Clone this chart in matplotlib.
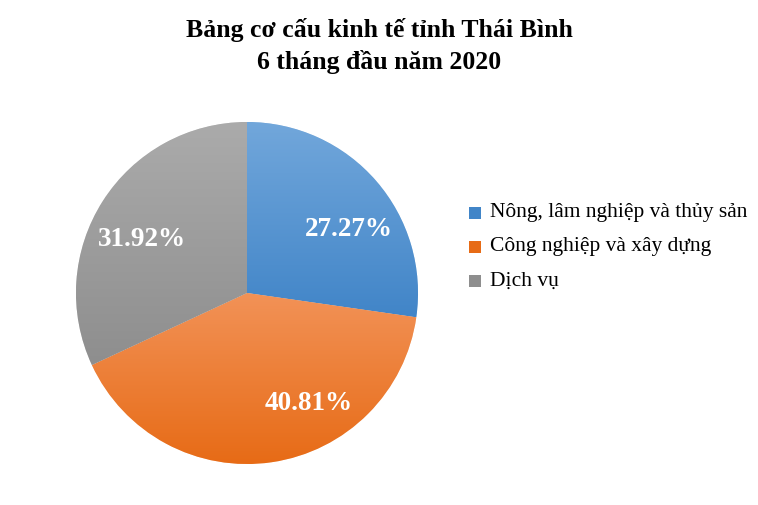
import numpy as np
import matplotlib.pyplot as plt
from matplotlib.colors import LinearSegmentedColormap

plt.rcParams['font.family'] = ['Liberation Serif', 'DejaVu Serif']

labels = ["Nông, lâm nghiệp và thủy sản", "Công nghiệp và xây dựng", "Dịch vụ"]
values = [27.27, 40.81, 31.92]
pct_text = ["27.27%", "40.81%", "31.92%"]
# top / bottom colours of the gradient fills
top_colors = ["#72a7db", "#f29257", "#ababab"]
bottom_colors = ["#4185c8", "#e76b16", "#8e8e8e"]
# where Excel put the data labels (angle in degrees, fraction of radius)
label_ang = [32, -61, 153]
label_rad = [0.70, 0.74, 0.69]

fig = plt.figure(figsize=(7.58, 5.05), dpi=100)
ax = fig.add_axes([76 / 758, 41 / 505, 342 / 758, 342 / 505])

wedges, texts = ax.pie(values, startangle=90, counterclock=False, radius=1,
                       colors=bottom_colors,
                       wedgeprops=dict(edgecolor="white", linewidth=0.4))

ax.set_aspect("equal")
ax.axis("off")

grad = np.linspace(0, 1, 256).reshape(-1, 1)
for w, c1, c2 in zip(wedges, top_colors, bottom_colors):
    t = np.radians(np.linspace(w.theta1, w.theta2, 200))
    xs = np.concatenate([[w.center[0]], w.r * np.cos(t)])
    ys = np.concatenate([[w.center[1]], w.r * np.sin(t)])
    cmap = LinearSegmentedColormap.from_list("g", [c1, c2])
    im = ax.imshow(grad, cmap=cmap, aspect="auto",
                   extent=[xs.min(), xs.max(), ys.min(), ys.max()],
                   origin="upper", zorder=w.get_zorder() + 0.1)
    im.set_clip_path(w)

ax.set_xlim(-1, 1)
ax.set_ylim(-1, 1)

for s, a, r in zip(pct_text, label_ang, label_rad):
    ang = np.radians(a)
    ax.text(r * np.cos(ang), r * np.sin(ang), s, ha="center", va="center",
            color="white", fontsize=19.5, fontweight="bold", zorder=5)

fig.text(0.5, 1 - 30 / 505, "Bảng cơ cấu kinh tế tỉnh Thái Bình", ha="center",
         va="center", fontsize=18.5, fontweight="bold")
fig.text(0.5, 1 - 62 / 505, "6 tháng đầu năm 2020", ha="center",
         va="center", fontsize=18.5, fontweight="bold")

# legend
leg_y = [213, 247, 281]
for lab, c1, c2, y in zip(labels, top_colors, bottom_colors, leg_y):
    yf = 1 - y / 505
    fig.patches.append(plt.Rectangle((469 / 758, yf - 6 / 505), 12 / 758, 12 / 505,
                                     transform=fig.transFigure, facecolor=c2,
                                     edgecolor="none"))
    fig.text(490 / 758, yf, lab, ha="left", va="center", fontsize=15.5)

fig.savefig("out.png", dpi=100)
